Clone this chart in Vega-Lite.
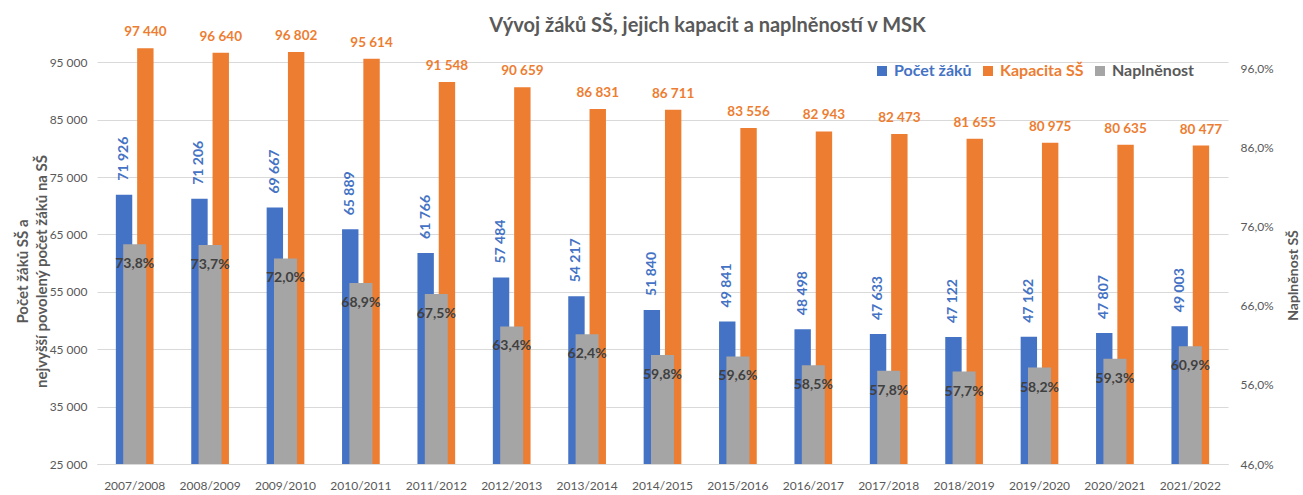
{
  "$schema": "https://vega.github.io/schema/vega-lite/v6.json",
  "autosize": "none",
  "width": 1131,
  "height": 419,
  "padding": {"left": 97, "top": 45, "right": 75, "bottom": 31},
  "background": "white",
  "config": {
    "view": {"stroke": null},
    "font": "Lato",
    "locale": {"number": {"decimal": ",", "thousands": " ", "grouping": [3], "currency": ["", " Kč"]}}
  },
  "title": {
    "text": "Vývoj žáků SŠ, jejich kapacit a naplněností v MSK",
    "anchor": "middle",
    "fontSize": 20,
    "fontWeight": "bold",
    "font": "Lato",
    "color": "#595959",
    "dx": 45,
    "dy": 27,
    "offset": 16
  },
  "data": {
    "values": [
      {"rok": "2007/2008", "Počet žáků": 71926, "Kapacita SŠ": 97440, "naplnenost": 0.738},
      {"rok": "2008/2009", "Počet žáků": 71206, "Kapacita SŠ": 96640, "naplnenost": 0.737},
      {"rok": "2009/2010", "Počet žáků": 69667, "Kapacita SŠ": 96802, "naplnenost": 0.720},
      {"rok": "2010/2011", "Počet žáků": 65889, "Kapacita SŠ": 95614, "naplnenost": 0.689},
      {"rok": "2011/2012", "Počet žáků": 61766, "Kapacita SŠ": 91548, "naplnenost": 0.675},
      {"rok": "2012/2013", "Počet žáků": 57484, "Kapacita SŠ": 90659, "naplnenost": 0.634},
      {"rok": "2013/2014", "Počet žáků": 54217, "Kapacita SŠ": 86831, "naplnenost": 0.624},
      {"rok": "2014/2015", "Počet žáků": 51840, "Kapacita SŠ": 86711, "naplnenost": 0.598},
      {"rok": "2015/2016", "Počet žáků": 49841, "Kapacita SŠ": 83556, "naplnenost": 0.596},
      {"rok": "2016/2017", "Počet žáků": 48498, "Kapacita SŠ": 82943, "naplnenost": 0.585},
      {"rok": "2017/2018", "Počet žáků": 47633, "Kapacita SŠ": 82473, "naplnenost": 0.578},
      {"rok": "2018/2019", "Počet žáků": 47122, "Kapacita SŠ": 81655, "naplnenost": 0.577},
      {"rok": "2019/2020", "Počet žáků": 47162, "Kapacita SŠ": 80975, "naplnenost": 0.582},
      {"rok": "2020/2021", "Počet žáků": 47807, "Kapacita SŠ": 80635, "naplnenost": 0.593},
      {"rok": "2021/2022", "Počet žáků": 49003, "Kapacita SŠ": 80477, "naplnenost": 0.609}
    ]
  },
  "encoding": {
    "x": {
      "field": "rok",
      "type": "nominal",
      "sort": null,
      "scale": {"paddingInner": 0.5, "paddingOuter": 0.25},
      "axis": {
        "title": null,
        "labelAngle": 0,
        "labelFontSize": 12,
        "labelColor": "#595959",
        "labelPadding": 16,
        "ticks": false,
        "domainColor": "#D9D9D9",
        "domainWidth": 1
      }
    }
  },
  "layer": [
    {
      "transform": [{"fold": ["Počet žáků", "Kapacita SŠ"], "as": ["serie", "hodnota"]}],
      "encoding": {
        "xOffset": {
          "field": "serie",
          "type": "nominal",
          "scale": {"domain": ["Počet žáků", "Kapacita SŠ"], "paddingInner": 0.23, "paddingOuter": 0}
        },
        "y": {
          "field": "hodnota",
          "type": "quantitative",
          "scale": {"domain": [25000, 98000], "zero": false, "nice": false},
          "axis": {
            "orient": "left",
            "values": [25000, 35000, 45000, 55000, 65000, 75000, 85000, 95000],
            "format": ",.0f",
            "grid": true,
            "gridColor": "#D9D9D9",
            "domain": false,
            "ticks": false,
            "labelPadding": 10,
            "labelFontSize": 12,
            "labelColor": "#595959",
            "title": ["Počet žáků SŠ a", "nejvyšší povolený počet žáků na SŠ"],
            "titleFontSize": 15,
            "titleFontWeight": "bold",
            "titleColor": "#595959",
            "titleAngle": 270,
            "titleAlign": "center",
            "titleBaseline": "middle",
            "titleX": -75,
            "titleY": 226,
            "titleLineHeight": 19
          }
        }
      },
      "layer": [
        {
          "mark": {"type": "bar", "clip": true},
          "encoding": {
            "color": {
              "field": "serie",
              "type": "nominal",
              "scale": {
                "domain": ["Počet žáků", "Kapacita SŠ", "Naplněnost"],
                "range": ["#4472C4", "#ED7D31", "#A5A5A5"]
              },
              "legend": {
                "title": null,
                "orient": "none",
                "direction": "horizontal",
                "legendX": 777,
                "legendY": 18,
                "symbolType": "square",
                "symbolSize": 100,
                "symbolStrokeWidth": 0,
                "labelFontSize": 16,
                "labelFontWeight": "bold",
                "labelFont": "Lato",
                "columnPadding": 8,
                "labelOffset": 4,
                "encode": {
                  "labels": {"update": {"fill": {"signal": "datum.value === 'Naplněnost' ? '#595959' : scale('color', datum.value)"}}}
                }
              }
            }
          }
        },
        {
          "transform": [{"filter": "datum.serie === 'Počet žáků'"}],
          "mark": {
            "type": "text",
            "angle": 270,
            "align": "left",
            "baseline": "middle",
            "dx": 14,
            "fontSize": 14,
            "fontWeight": "bold",
            "color": "#4472C4"
          },
          "encoding": {"text": {"field": "hodnota", "type": "quantitative", "format": ",.0f"}}
        },
        {
          "transform": [{"filter": "datum.serie === 'Kapacita SŠ'"}],
          "mark": {
            "type": "text",
            "align": "center",
            "baseline": "bottom",
            "dy": -9,
            "fontSize": 13.5,
            "fontWeight": "bold",
            "color": "#ED7D31"
          },
          "encoding": {"text": {"field": "hodnota", "type": "quantitative", "format": ",.0f"}}
        }
      ]
    },
    {
      "encoding": {
        "y": {
          "field": "naplnenost",
          "type": "quantitative",
          "scale": {"domain": [0.46, 0.99], "zero": false, "nice": false},
          "axis": {
            "orient": "right",
            "values": [0.46, 0.56, 0.66, 0.76, 0.86, 0.96],
            "format": ".1%",
            "grid": false,
            "domain": false,
            "ticks": false,
            "labelPadding": 12,
            "labelFontSize": 12,
            "labelColor": "#595959",
            "title": "Naplněnost SŠ",
            "titleFontSize": 14,
            "titleFontWeight": "bold",
            "titleColor": "#595959",
            "titleAngle": 270,
            "titleAlign": "center",
            "titleBaseline": "middle",
            "titleX": 65,
            "titleY": 230
          }
        }
      },
      "layer": [
        {
          "mark": {"type": "bar", "clip": true, "width": {"band": 0.61}},
          "encoding": {"color": {"datum": "Naplněnost"}}
        },
        {
          "mark": {
            "type": "text",
            "align": "center",
            "baseline": "middle",
            "dy": 20,
            "fontSize": 14,
            "fontWeight": "bold",
            "color": "#404040"
          },
          "encoding": {"text": {"field": "naplnenost", "type": "quantitative", "format": ".1%"}}
        }
      ]
    }
  ],
  "resolve": {"scale": {"y": "independent"}}
}
